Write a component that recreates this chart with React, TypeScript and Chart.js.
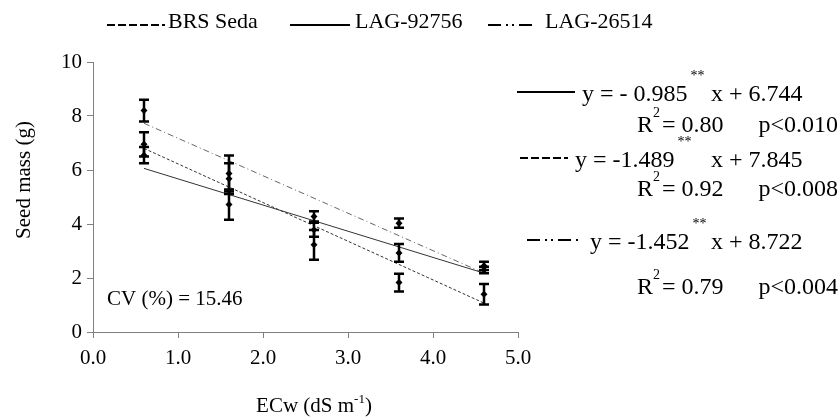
import React, { useEffect, useRef } from "react";
import { Chart, registerables } from "chart.js";

Chart.register(...registerables);

// ---- data ----
const ecw = [0.6, 1.6, 2.6, 3.6, 4.6];
const brsSeda = [6.95, 5.68, 3.23, 1.83, 1.4];
const brsSedaErr = [0.45, 0.57, 0.55, 0.33, 0.38];
const lag92756 = [6.55, 4.72, 3.79, 2.93, 2.3];
const lag92756Err = [0.3, 0.56, 0.26, 0.33, 0.12];
const lag26514 = [8.2, 5.87, 4.28, 4.03, 2.45];
const lag26514Err = [0.4, 0.67, 0.19, 0.17, 0.15];

// regression line end points (as drawn)
const fitX = [0.6, 4.6];
const brsSedaFit = [6.8, 1.07];
const lag92756Fit = [6.06, 2.18];
const lag26514Fit = [7.73, 2.18];

const seriesNames = ["BRS Seda", "LAG-92756", "LAG-26514"];
const eqSlopes = ["- 0.985", "-1.489", "-1.452"];
const eqIntercepts = ["6.744", "7.845", "8.722"];
const eqR2 = ["0.80", "0.92", "0.79"];
const eqP = ["p<0.010", "p<0.008", "p<0.004"];
const cvText = "CV (%) = 15.46";

const FONT = "'Liberation Serif', 'Times New Roman', serif";
const errSets = [brsSedaErr, lag92756Err, lag26514Err];

function drawSample(ctx: CanvasRenderingContext2D, x1: number, x2: number, y: number, dash: number[]) {
  ctx.save();
  ctx.strokeStyle = "#000";
  ctx.lineWidth = 2;
  ctx.setLineDash(dash);
  ctx.beginPath();
  ctx.moveTo(x1, y);
  ctx.lineTo(x2, y);
  ctx.stroke();
  ctx.restore();
}

const annotPlugin = {
  id: "annot",
  beforeDatasetDraw(chart: any, args: any) {
    const ds = chart.data.datasets[args.index];
    if (ds.errIndex === undefined) return;
    const errs = errSets[ds.errIndex];
    const xs = chart.scales.x;
    const ys = chart.scales.y;
    const ctx: CanvasRenderingContext2D = chart.ctx;
    ctx.save();
    ctx.strokeStyle = "#000";
    ctx.lineWidth = 2.5;
    ds.data.forEach((p: any, i: number) => {
      const px = xs.getPixelForValue(p.x);
      const top = ys.getPixelForValue(p.y + errs[i]);
      const bot = ys.getPixelForValue(p.y - errs[i]);
      ctx.beginPath();
      ctx.moveTo(px, top);
      ctx.lineTo(px, bot);
      ctx.moveTo(px - 5, top);
      ctx.lineTo(px + 5, top);
      ctx.moveTo(px - 5, bot);
      ctx.lineTo(px + 5, bot);
      ctx.stroke();
    });
    ctx.restore();
  },
  afterDraw(chart: any) {
    const ctx: CanvasRenderingContext2D = chart.ctx;
    ctx.save();
    ctx.fillStyle = "#000";
    ctx.textBaseline = "alphabetic";
    ctx.textAlign = "left";

    // legend
    ctx.font = `22px ${FONT}`;
    drawSample(ctx, 107, 165, 25, [8, 3]);
    ctx.fillText(seriesNames[0], 168, 28);
    drawSample(ctx, 290, 350, 25, []);
    ctx.fillText(seriesNames[1], 355, 28);
    drawSample(ctx, 488, 537, 25, [13, 5, 2, 4, 2, 5]);
    ctx.fillText(seriesNames[2], 545, 28);

    // equations
    const rows = [
      { ly: 92, lx1: 517, lx2: 575, dash: [] as number[], tx: 582, base: 101, rBase: 132 },
      { ly: 158, lx1: 520, lx2: 568, dash: [8, 3], tx: 575, base: 167, rBase: 196 },
      { ly: 240, lx1: 527, lx2: 580, dash: [13, 5, 2, 4, 2, 5], tx: 590, base: 249, rBase: 294 },
    ];
    rows.forEach((r, i) => {
      drawSample(ctx, r.lx1, r.lx2, r.ly, r.dash);
      ctx.font = `24px ${FONT}`;
      const t1 = `y = ${eqSlopes[i]}`;
      ctx.fillText(t1, r.tx, r.base);
      const w1 = ctx.measureText(t1).width;
      ctx.font = `14px ${FONT}`;
      ctx.fillText("**", r.tx + w1 + 3, r.base - 21);
      ctx.font = `24px ${FONT}`;
      ctx.fillText(`x + ${eqIntercepts[i]}`, 711, r.base);
      // R2 line
      ctx.fillText("R", 637, r.rBase);
      const wr = ctx.measureText("R").width;
      ctx.font = `14px ${FONT}`;
      ctx.fillText("2", 637 + wr, r.rBase - 15);
      ctx.font = `24px ${FONT}`;
      ctx.fillText(`= ${eqR2[i]}`, 637 + wr + 9, r.rBase);
      ctx.textAlign = "right";
      ctx.fillText(eqP[i], 838, r.rBase);
      ctx.textAlign = "left";
    });

    // CV text
    ctx.font = `21px ${FONT}`;
    ctx.fillText(cvText, 107, 305);

    // y title
    ctx.save();
    ctx.translate(24, 180);
    ctx.rotate(-Math.PI / 2);
    ctx.textAlign = "center";
    ctx.textBaseline = "middle";
    ctx.font = `21px ${FONT}`;
    ctx.fillText("Seed mass (g)", 0, 0);
    ctx.restore();

    // x title
    ctx.font = `21px ${FONT}`;
    const a = "ECw (dS m";
    const wa = ctx.measureText(a).width;
    ctx.font = `13px ${FONT}`;
    const sup = "-1";
    const ws = ctx.measureText(sup).width;
    ctx.font = `21px ${FONT}`;
    const wc = ctx.measureText(")").width;
    const total = wa + ws + wc;
    const x0 = 314 - total / 2;
    const base = 412;
    ctx.fillText(a, x0, base);
    ctx.font = `13px ${FONT}`;
    ctx.fillText(sup, x0 + wa, base - 9);
    ctx.font = `21px ${FONT}`;
    ctx.fillText(")", x0 + wa + ws, base);
    ctx.restore();
  },
};

export default function App() {
  const ref = useRef<HTMLCanvasElement | null>(null);
  useEffect(() => {
    document.body.style.margin = "0";
    const canvas = ref.current!;
    const pts = (vals: number[]) => ecw.map((x, i) => ({ x, y: vals[i] }));
    const fit = (vals: number[]) => fitX.map((x, i) => ({ x, y: vals[i] }));
    const lineDs = (label: string, vals: number[], dash: number[], color: string) => ({
      type: "line" as const,
      label,
      data: fit(vals),
      borderColor: color,
      borderWidth: 1,
      borderDash: dash,
      pointRadius: 0,
      showLine: true,
      fill: false,
      order: 2,
    });
    const ptDs = (label: string, vals: number[], errIndex: number) => ({
      type: "scatter" as const,
      label,
      data: pts(vals),
      errIndex,
      pointStyle: "rectRot",
      pointRadius: 3.5,
      backgroundColor: "#000",
      borderColor: "#000",
      borderWidth: 0,
      order: 1,
    });
    const chart = new Chart(canvas, {
      type: "scatter",
      data: {
        datasets: [
          lineDs(seriesNames[0] + " fit", brsSedaFit, [3, 2], "#333"),
          lineDs(seriesNames[1] + " fit", lag92756Fit, [], "#333"),
          lineDs(seriesNames[2] + " fit", lag26514Fit, [6, 3, 1, 3], "#666"),
          ptDs(seriesNames[0], brsSeda, 0),
          ptDs(seriesNames[1], lag92756, 1),
          ptDs(seriesNames[2], lag26514, 2),
        ] as any,
      },
      options: {
        responsive: false,
        animation: false,
        layout: { padding: { left: 0, top: 62, right: 322, bottom: 0 } },
        plugins: { legend: { display: false }, tooltip: { enabled: false } },
        scales: {
          x: {
            type: "linear",
            min: 0,
            max: 5,
            ticks: {
              stepSize: 1,
              color: "#000",
              font: { family: FONT, size: 21 },
              padding: 8,
              callback: (v: any) => Number(v).toFixed(1),
            },
            grid: { drawOnChartArea: false, color: "#808080", tickLength: 6 },
            border: { color: "#808080" },
            afterFit: (s: any) => { s.height = 86; },
          },
          y: {
            type: "linear",
            min: 0,
            max: 10,
            ticks: {
              stepSize: 2,
              color: "#000",
              font: { family: FONT, size: 21 },
              padding: 5,
            },
            grid: { drawOnChartArea: false, color: "#808080", tickLength: 6 },
            border: { color: "#808080" },
            afterFit: (s: any) => { s.width = 93; },
          },
        },
      },
      plugins: [annotPlugin],
    });
    return () => chart.destroy();
  }, []);
  return (
    <div style={{ width: 840, height: 418, background: "#fff" }}>
      <canvas ref={ref} width={840} height={418} />
    </div>
  );
}
